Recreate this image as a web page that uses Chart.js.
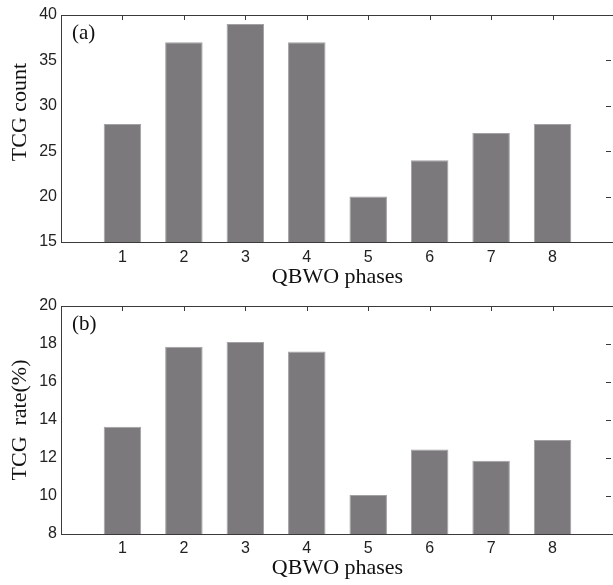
<!DOCTYPE html>
<html>
<head>
<meta charset="utf-8">
<script src="https://cdn.jsdelivr.net/npm/chart.js@4.4.0/dist/chart.umd.min.js"></script>
<style>
  html, body { margin: 0; padding: 0; background: #fff; overflow: hidden; }
  canvas { position: absolute; left: 0; }
  #chartA { top: 0; }
  #chartB { top: 292px; }
</style>
</head>
<body>
<canvas id="chartA" width="617" height="292"></canvas>
<canvas id="chartB" width="617" height="293"></canvas>
<script>
// dados
const phases = [1, 2, 3, 4, 5, 6, 7, 8]
const tcgCount = [28, 37, 39, 37, 20, 24, 27, 28]
const tcgRate = [13.65, 17.85, 18.1, 17.6, 10.05, 12.45, 11.85, 12.95]
const countTicks = [15, 20, 25, 30, 35, 40]
const rateTicks = [8, 10, 12, 14, 16, 18, 20]

const barFill = '#7b797c'
const barEdge = '#a3a1a4'
const frameColor = '#3a3a3a'
const sansFont = "'Liberation Sans', Arial, sans-serif"
const serifFont = "'Liberation Serif', 'Times New Roman', serif"

// moldura estilo matlab com ticks para dentro (topo e direita)
const matlabFrame = {
  id: 'matlabFrame',
  beforeDatasetsDraw(chart) {
    const {ctx, chartArea: a, scales: {x, y}} = chart
    ctx.save()
    ctx.strokeStyle = frameColor
    ctx.lineWidth = 1
    ctx.beginPath()
    x.ticks.forEach(t => {
      if (t.value <= x.min || t.value >= x.max) return
      const px = Math.round(x.getPixelForValue(t.value)) + 0.5
      ctx.moveTo(px, a.top)
      ctx.lineTo(px, a.top + 5)
    })
    y.ticks.forEach(t => {
      if (t.value <= y.min || t.value >= y.max) return
      const py = Math.round(y.getPixelForValue(t.value)) + 0.5
      ctx.moveTo(a.right - 3, py)
      ctx.lineTo(a.right - 8, py)
    })
    ctx.stroke()
    ctx.restore()
  },
  afterDraw(chart, args, opts) {
    const {ctx, chartArea: a} = chart
    ctx.save()
    ctx.strokeStyle = frameColor
    ctx.lineWidth = 1
    ctx.strokeRect(Math.round(a.left) + 0.5, Math.round(a.top) + 0.5,
      Math.round(a.right - a.left), Math.round(a.bottom - a.top))
    ctx.fillStyle = '#111'
    ctx.font = '21px ' + serifFont
    ctx.textBaseline = 'middle'
    ctx.fillText(opts.tag, a.left + 11, a.top + 18)
    ctx.restore()
  }
}

function makeChart(id, values, ticks, yTitle, tag, padTop, xHeight, tickPad, titlePad) {
  return new Chart(document.getElementById(id), {
    type: 'bar',
    data: {
      datasets: [{
        data: values.map((v, i) => ({x: phases[i], y: v})),
        backgroundColor: barFill,
        borderColor: barEdge,
        borderWidth: 1,
        barPercentage: 0.61,
        categoryPercentage: 1.0,
      }]
    },
    options: {
      responsive: false,
      animation: false,
      layout: {
        padding: {top: padTop, left: 0, right: 3, bottom: 0}
      },
      plugins: {
        legend: {display: false},
        tooltip: {enabled: false},
        matlabFrame: {tag: tag}
      },
      scales: {
        x: {
          type: 'linear',
          offset: false,
          min: 0,
          max: 9,
          grid: {display: false, drawTicks: false, offset: false},
          border: {display: false},
          ticks: {
            stepSize: 1,
            padding: tickPad,
            color: '#222',
            font: {family: sansFont, size: 16},
            callback: v => (v > 0 && v < 9) ? String(v) : ''
          },
          title: {
            display: true,
            text: 'QBWO phases',
            color: '#111',
            font: {family: serifFont, size: 22},
            padding: {top: 0, bottom: titlePad}
          },
          afterFit: s => {
            s.height = xHeight
            s.paddingLeft = 0
            s.paddingRight = 0
          }
        },
        y: {
          min: ticks[0],
          max: ticks[ticks.length - 1],
          grid: {display: false, drawTicks: false},
          border: {display: false},
          afterBuildTicks: s => { s.ticks = ticks.map(v => ({value: v})) },
          ticks: {
            padding: 4,
            color: '#222',
            font: {family: sansFont, size: 16}
          },
          title: {
            display: true,
            text: yTitle,
            color: '#111',
            font: {family: serifFont, size: 22},
            padding: {top: 7, bottom: 0}
          },
          afterFit: s => { s.width = 61 }
        }
      }
    },
    plugins: [matlabFrame]
  })
}

makeChart('chartA', tcgCount, countTicks, '      TCG count', '(a)', 15, 50, 6, 2)
makeChart('chartB', tcgRate, rateTicks, 'TCG  rate(%)', '(b)', 14, 51, 5, 4)
</script>
</body>
</html>
